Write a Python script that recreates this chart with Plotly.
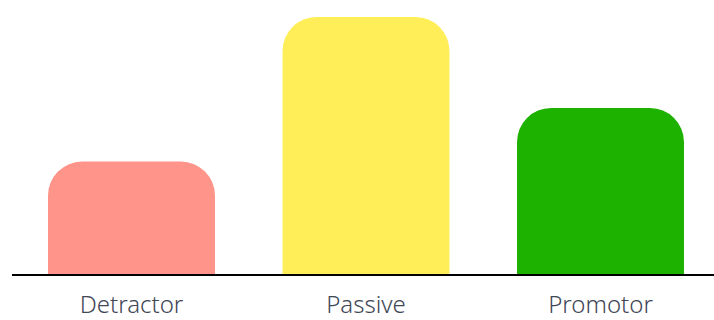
import plotly.graph_objects as go

# NPS group shares (%)
categories = ["Detractor", "Passive", "Promotor"]
shares = [21, 48, 31]
colors = ["#ff948a", "#ffee57", "#1db100"]

fig = go.Figure(
    go.Bar(
        x=categories,
        y=shares,
        marker=dict(color=colors, line=dict(width=0)),
        hoverinfo="x+y",
    )
)

fig.update_layout(
    width=714,
    height=320,
    margin=dict(l=12, r=0, t=0, b=46, autoexpand=False),
    paper_bgcolor="white",
    plot_bgcolor="white",
    bargap=0.288,
    barcornerradius=34,
    showlegend=False,
    xaxis=dict(
        range=[-0.5096, 2.484],
        automargin=False,
        showline=True,
        linecolor="black",
        linewidth=2,
        showgrid=False,
        zeroline=False,
        ticks="",
        ticklabelstandoff=8,
        tickfont=dict(family="Noto Sans", size=24, color="#3f4656", weight=300),
    ),
    yaxis=dict(
        range=[0, 51.17],
        visible=False,
        showgrid=False,
        zeroline=False,
    ),
)

fig.write_html("out.html")
